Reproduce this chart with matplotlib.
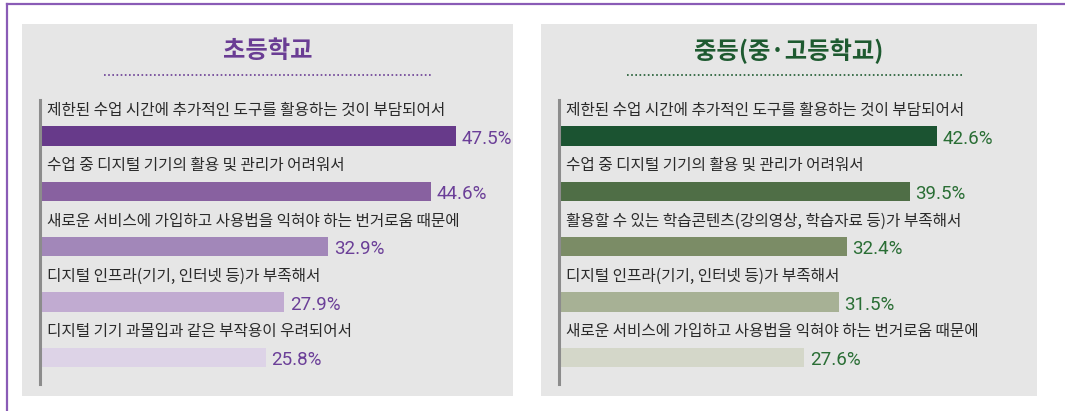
import matplotlib
matplotlib.use('Agg')
import matplotlib.pyplot as plt
from matplotlib.patches import Rectangle
from matplotlib.lines import Line2D

plt.rcParams['font.family'] = ['Noto Sans CJK KR', 'DejaVu Sans']

# 데이터
elem_title = '초등학교'
elem_labels = ['제한된 수업 시간에 추가적인 도구를 활용하는 것이 부담되어서',
               '수업 중 디지털 기기의 활용 및 관리가 어려워서',
               '새로운 서비스에 가입하고 사용법을 익혀야 하는 번거로움 때문에',
               '디지털 인프라(기기, 인터넷 등)가 부족해서',
               '디지털 기기 과몰입과 같은 부작용이 우려되어서']
elem_values = [47.5, 44.6, 32.9, 27.9, 25.8]

sec_title = '중등(중·고등학교)'
sec_labels = ['제한된 수업 시간에 추가적인 도구를 활용하는 것이 부담되어서',
              '수업 중 디지털 기기의 활용 및 관리가 어려워서',
              '활용할 수 있는 학습콘텐츠(강의영상, 학습자료 등)가 부족해서',
              '디지털 인프라(기기, 인터넷 등)가 부족해서',
              '새로운 서비스에 가입하고 사용법을 익혀야 하는 번거로움 때문에']
sec_values = [42.6, 39.5, 32.4, 31.5, 27.6]

elem_colors = ['#673a8a', '#8861a0', '#a287b9', '#c1abd1', '#ddd3e7']
sec_colors = ['#1b5331', '#4f6e46', '#7b8c66', '#a7b195', '#d4d7c9']

W, H = 1065, 411
fig = plt.figure(figsize=(W / 100, H / 100), dpi=100)


def fx(px):
    return px / W


def fy(py):
    return 1 - py / H


# 외곽 보라색 테두리
fig.add_artist(Line2D([fx(7), 1], [fy(4), fy(4)], color='#8a5cb6', lw=1.6))
fig.add_artist(Line2D([fx(7), fx(7)], [fy(4), 0], color='#8a5cb6', lw=1.6))


def panel(x0, x1, title, tcolor, dot_x0, dot_x1, labels, values, colors, scale, vcolor):
    # 회색 배경
    fig.add_artist(Rectangle((fx(x0), fy(396)), fx(x1 - x0), (396 - 24) / H,
                             facecolor='#e6e6e6', edgecolor='none', zorder=0))
    fig.text(fx((x0 + x1) / 2), fy(51), title, color=tcolor, fontsize=17.5,
             fontweight='bold', ha='center', va='center')
    fig.add_artist(Line2D([fx(dot_x0), fx(dot_x1)], [fy(75), fy(75)], color=tcolor,
                          lw=1.2, linestyle=(0, (1, 1.5))))

    ax_left = x0 + 18
    ax = fig.add_axes([fx(ax_left), fy(384), fx(x1 - ax_left), (384 - 100) / H])
    ax.set_facecolor('none')
    n = len(values)
    ax.barh(range(n), values, height=0.35, color=colors)
    ax.set_xlim(0, (x1 - ax_left) / scale)
    ax.set_ylim(n - 0.52, -0.65)
    for i, (lab, v) in enumerate(zip(labels, values)):
        ax.annotate(lab, xy=(0, i), xytext=(5, 18.5), textcoords='offset points',
                    ha='left', va='center', fontsize=11.3, color='#2a2a2a')
        ax.annotate('%.1f%%' % v, xy=(v, i), xytext=(4, -2), textcoords='offset points',
                    ha='left', va='center', fontsize=13.5, color=vcolor,
                    family=['Roboto', 'DejaVu Sans'])
    for s in ['top', 'right', 'bottom']:
        ax.spines[s].set_visible(False)
    ax.spines['left'].set_color('#8c8c8c')
    ax.spines['left'].set_linewidth(2.2)
    ax.set_xticks([])
    ax.set_yticks([])


panel(22, 513, elem_title, '#6a3d94', 104, 432, elem_labels, elem_values,
      elem_colors, 8.76, '#6b3f98')
panel(541, 1037, sec_title, '#1e5a30', 627, 962, sec_labels, sec_values,
      sec_colors, 8.88, '#2a6e35')

fig.savefig('out.png', dpi=100)
